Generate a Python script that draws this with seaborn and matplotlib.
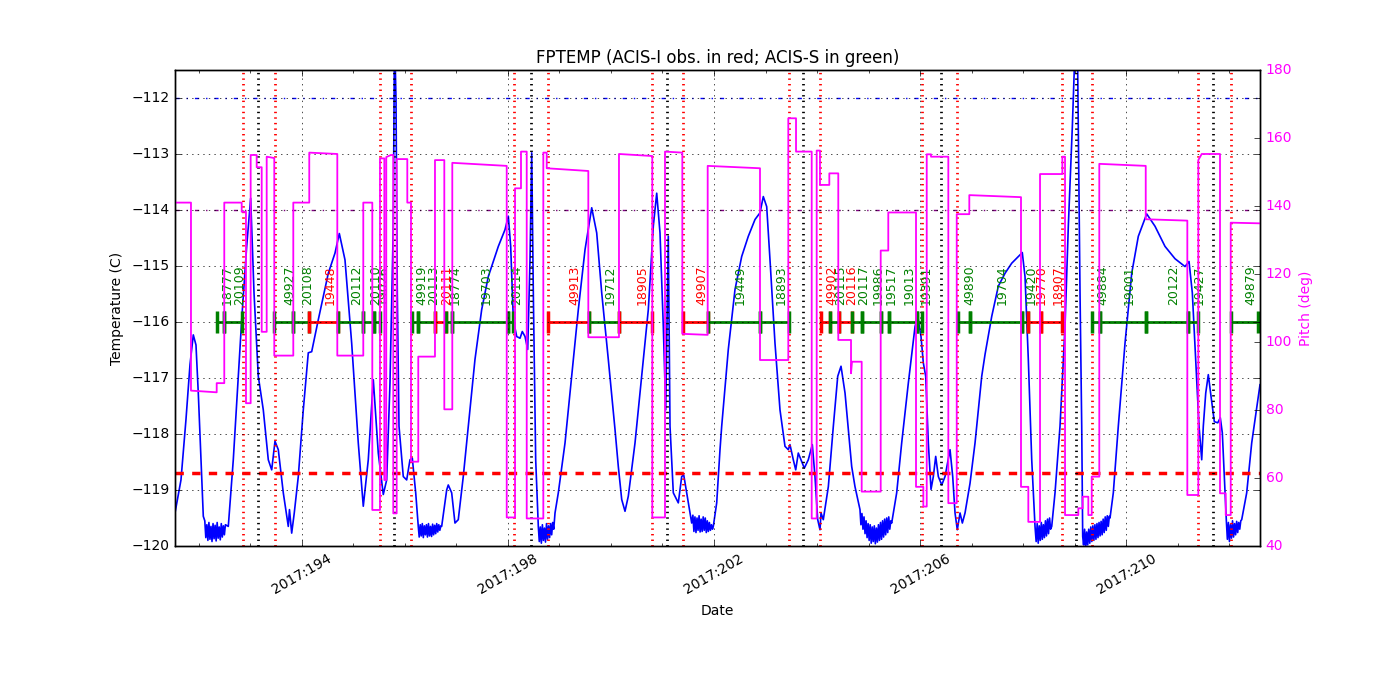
import matplotlib
matplotlib.use('Agg')
import matplotlib.pyplot as plt
from matplotlib.ticker import MultipleLocator, FuncFormatter
import pandas as pd
import seaborn as sns

# old-school matplotlib look, like the ACIS thermal model plots
plt.style.use('classic')
plt.rcParams['font.family'] = ['DejaVu Sans']
plt.rcParams['font.size'] = 10
plt.rcParams['figure.facecolor'] = 'white'
plt.rcParams['savefig.facecolor'] = 'white'

# FPTEMP (deg C) vs day of year 2017
temp_trace = [
    (191.542, -119.41), (191.658, -118.82), (191.755, -117.74), (191.833, -116.76),
    (191.897, -116.23), (191.949, -116.41), (191.994, -117.27), (192.046, -118.46),
    (192.091, -119.47),
    (192.12, -119.55), (192.14, -119.85), (192.16, -119.62), (192.18, -119.90),
    (192.20, -119.58), (192.22, -119.88), (192.24, -119.65), (192.26, -119.92),
    (192.28, -119.60), (192.30, -119.87), (192.32, -119.63), (192.34, -119.91),
    (192.36, -119.58), (192.38, -119.86), (192.40, -119.66), (192.42, -119.89),
    (192.44, -119.60), (192.46, -119.84), (192.48, -119.64), (192.50, -119.80),
    (192.52, -119.62),
    (192.576, -119.65), (192.673, -118.46), (192.770, -116.97), (192.836, -115.96),
    (192.933, -114.65), (193.010, -113.79), (193.075, -115.48), (193.158, -116.97),
    (193.255, -117.57), (193.352, -118.46), (193.418, -118.64), (193.482, -118.13),
    (193.546, -118.28), (193.643, -119.05), (193.740, -119.65), (193.763, -119.35),
    (193.806, -119.77), (193.856, -119.41), (193.934, -118.76), (194.031, -117.57),
    (194.128, -116.55), (194.194, -116.53), (194.322, -115.96), (194.516, -115.13),
    (194.646, -114.77), (194.730, -114.42), (194.840, -114.89), (194.970, -116.38),
    (195.098, -118.16), (195.195, -119.29), (195.292, -118.46), (195.389, -117.03),
    (195.486, -118.34), (195.583, -119.08), (195.649, -118.82), (195.713, -117.09),
    (195.777, -114.29), (195.801, -110.80), (195.830, -112.03), (195.855, -115.48),
    (195.888, -117.86), (195.971, -118.76), (196.037, -118.82), (196.101, -118.46),
    (196.146, -118.43), (196.212, -119.05), (196.262, -119.65),
    (196.28, -119.84), (196.30, -119.62), (196.32, -119.82), (196.34, -119.60),
    (196.36, -119.85), (196.38, -119.64), (196.40, -119.80), (196.42, -119.62),
    (196.44, -119.84), (196.46, -119.60), (196.48, -119.82), (196.50, -119.65),
    (196.52, -119.83), (196.54, -119.61), (196.56, -119.80), (196.58, -119.63),
    (196.60, -119.78), (196.62, -119.60), (196.64, -119.75), (196.66, -119.62),
    (196.68, -119.72), (196.70, -119.64),
    (196.716, -119.65), (196.813, -119.00), (196.844, -118.91), (196.910, -119.05),
    (196.974, -119.59), (197.038, -119.53), (197.135, -118.76), (197.232, -117.86),
    (197.362, -116.67), (197.492, -115.78), (197.620, -115.19), (197.815, -114.65),
    (197.945, -114.35), (198.009, -114.11), (198.055, -114.65), (198.106, -115.96),
    (198.172, -116.26), (198.236, -116.29), (198.280, -116.17), (198.333, -116.26),
    (198.385, -116.49), (198.430, -114.89), (198.463, -112.98), (198.494, -115.48),
    (198.540, -118.46), (198.591, -119.65),
    (198.61, -119.92), (198.63, -119.66), (198.65, -119.95), (198.67, -119.62),
    (198.69, -119.90), (198.71, -119.68), (198.73, -119.93), (198.75, -119.60),
    (198.77, -119.88), (198.79, -119.64), (198.81, -119.85), (198.83, -119.60),
    (198.85, -119.80), (198.87, -119.58), (198.89, -119.70),
    (198.915, -119.41), (198.979, -119.05), (199.109, -118.16), (199.239, -116.97),
    (199.367, -115.78), (199.497, -114.71), (199.627, -113.96), (199.724, -114.41),
    (199.821, -115.48), (199.949, -116.67), (200.079, -117.92), (200.143, -118.58),
    (200.209, -119.17), (200.273, -119.38), (200.337, -119.11), (200.467, -118.16),
    (200.597, -116.97), (200.725, -115.78), (200.822, -114.29), (200.888, -113.70),
    (200.952, -114.41), (201.016, -116.08), (201.063, -117.57), (201.113, -114.47),
    (201.146, -117.86), (201.210, -119.05), (201.307, -119.23), (201.373, -118.76),
    (201.412, -118.73), (201.470, -119.05), (201.567, -119.59),
    (201.59, -119.45), (201.61, -119.74), (201.63, -119.48), (201.65, -119.76),
    (201.67, -119.50), (201.69, -119.72), (201.71, -119.46), (201.73, -119.75),
    (201.75, -119.52), (201.77, -119.74), (201.79, -119.48), (201.81, -119.72),
    (201.83, -119.50), (201.85, -119.76), (201.87, -119.55), (201.89, -119.74),
    (201.91, -119.58), (201.93, -119.72), (201.95, -119.62), (201.97, -119.70),
    (201.986, -119.65), (202.052, -119.23), (202.116, -118.28), (202.149, -117.86),
    (202.277, -116.49), (202.407, -115.42), (202.537, -114.83), (202.665, -114.47),
    (202.795, -114.17), (202.892, -114.05), (202.956, -113.76), (203.022, -113.94),
    (203.086, -114.89), (203.183, -116.38), (203.280, -117.57), (203.377, -118.22),
    (203.441, -118.28), (203.474, -118.19), (203.538, -118.46), (203.585, -118.64),
    (203.635, -118.34), (203.688, -118.46), (203.752, -118.61), (203.829, -118.46),
    (203.907, -118.19), (203.959, -118.76), (204.012, -119.53), (204.056, -119.71),
    (204.076, -119.41), (204.120, -119.53), (204.218, -118.94), (204.315, -117.86),
    (204.400, -116.97), (204.464, -116.79), (204.542, -117.27), (204.671, -118.58),
    (204.735, -118.94), (204.832, -119.35),
    (204.85, -119.62), (204.87, -119.42), (204.89, -119.70), (204.91, -119.48),
    (204.93, -119.78), (204.95, -119.55), (204.97, -119.85), (204.99, -119.60),
    (205.01, -119.90), (205.03, -119.62), (205.05, -119.95), (205.07, -119.66),
    (205.09, -119.92), (205.11, -119.64), (205.13, -119.96), (205.15, -119.68),
    (205.17, -119.93), (205.19, -119.62), (205.21, -119.90), (205.23, -119.58),
    (205.25, -119.88), (205.27, -119.55), (205.29, -119.84), (205.31, -119.52),
    (205.33, -119.80), (205.35, -119.50), (205.37, -119.76), (205.39, -119.48),
    (205.41, -119.70), (205.43, -119.55),
    (205.447, -119.59), (205.544, -119.05), (205.641, -118.16), (205.770, -117.09),
    (205.900, -116.08), (205.952, -115.90), (206.016, -116.26), (206.061, -116.73),
    (206.107, -116.97), (206.158, -118.16), (206.210, -118.99), (206.255, -118.76),
    (206.301, -118.40), (206.352, -118.76), (206.418, -118.91), (206.482, -118.76),
    (206.579, -118.28), (206.631, -118.76), (206.676, -119.41), (206.720, -119.71),
    (206.773, -119.41), (206.818, -119.59), (206.870, -119.41), (206.967, -118.88),
    (207.064, -118.16), (207.194, -116.97), (207.258, -116.58), (207.388, -115.90),
    (207.516, -115.36), (207.646, -115.13), (207.776, -114.95), (207.904, -114.83),
    (207.981, -114.76), (208.034, -115.19), (208.098, -116.67), (208.164, -118.46),
    (208.228, -119.65),
    (208.25, -119.92), (208.27, -119.60), (208.29, -119.95), (208.31, -119.64),
    (208.33, -119.90), (208.35, -119.58), (208.37, -119.88), (208.39, -119.62),
    (208.41, -119.85), (208.43, -119.55), (208.45, -119.82), (208.47, -119.52),
    (208.49, -119.78), (208.51, -119.50), (208.53, -119.70),
    (208.552, -119.65), (208.616, -119.05), (208.713, -117.86), (208.810, -116.08),
    (208.874, -114.29), (208.952, -112.51), (208.990, -111.49), (209.023, -110.80),
    (209.056, -111.49), (209.101, -115.48), (209.134, -117.86), (209.153, -119.83),
    (209.17, -119.98), (209.19, -119.70), (209.21, -120.05), (209.23, -119.75),
    (209.25, -119.98), (209.27, -119.70), (209.29, -119.95), (209.31, -119.66),
    (209.33, -119.92), (209.35, -119.64), (209.37, -119.90), (209.39, -119.62),
    (209.41, -119.88), (209.43, -119.60), (209.45, -119.85), (209.47, -119.58),
    (209.49, -119.82), (209.51, -119.56), (209.53, -119.80), (209.55, -119.52),
    (209.57, -119.76), (209.59, -119.48), (209.61, -119.72), (209.63, -119.46),
    (209.65, -119.65), (209.67, -119.47),
    (209.683, -119.50), (209.747, -119.05), (209.844, -117.86), (209.974, -116.38),
    (210.104, -115.13), (210.232, -114.47), (210.395, -114.07), (210.556, -114.29),
    (210.750, -114.65), (210.944, -114.87), (211.138, -115.01), (211.216, -114.92),
    (211.280, -115.48), (211.346, -116.67), (211.410, -117.86), (211.462, -118.46),
    (211.493, -117.86), (211.540, -117.27), (211.590, -116.94), (211.643, -117.33),
    (211.707, -117.78), (211.773, -117.80), (211.823, -117.71), (211.862, -117.98),
    (211.901, -118.76), (211.939, -119.53),
    (211.96, -119.88), (211.98, -119.58), (212.00, -119.92), (212.02, -119.62),
    (212.04, -119.86), (212.06, -119.55), (212.08, -119.84), (212.10, -119.60),
    (212.12, -119.80), (212.14, -119.56), (212.16, -119.76), (212.18, -119.58),
    (212.20, -119.70), (212.22, -119.55),
    (212.238, -119.53), (212.335, -119.05), (212.432, -118.16), (212.593, -117.12),
]

# pitch (deg) vs day of year
pitch_trace = [
    (191.542, 141.0), (191.852, 141.0), (191.852, 85.7), (192.351, 85.2),
    (192.351, 87.9), (192.498, 87.9), (192.498, 141.0), (192.836, 141.0),
    (192.836, 138.3), (192.919, 138.3), (192.919, 82.0), (193.010, 82.0),
    (193.010, 155.0), (193.127, 155.0), (193.127, 151.4), (193.224, 151.4),
    (193.224, 103.0), (193.321, 103.0), (193.321, 154.5), (193.468, 154.1),
    (193.468, 96.0), (193.837, 96.0), (193.837, 141.0), (194.147, 141.0),
    (194.147, 155.7), (194.691, 155.3), (194.691, 96.0), (195.195, 96.0),
    (195.195, 141.0), (195.370, 141.0), (195.370, 50.6), (195.519, 50.6),
    (195.519, 154.0), (195.603, 154.0), (195.603, 59.4), (195.641, 59.4),
    (195.641, 154.4), (195.733, 155.0), (195.777, 155.0), (195.777, 49.6),
    (195.843, 49.6), (195.843, 153.8), (196.049, 153.8), (196.049, 141.0),
    (196.121, 141.0), (196.121, 64.8), (196.262, 64.8), (196.262, 95.7),
    (196.586, 95.7), (196.586, 153.5), (196.767, 153.5), (196.767, 80.2),
    (196.922, 80.2), (196.922, 152.7), (197.978, 151.8), (197.978, 48.4),
    (198.139, 48.4), (198.139, 145.2), (198.255, 145.2), (198.255, 156.0),
    (198.366, 156.0), (198.366, 48.1), (198.688, 48.1), (198.688, 155.7),
    (198.754, 155.7), (198.754, 151.1), (199.561, 150.3), (199.561, 101.4),
    (200.156, 101.4), (200.156, 155.3), (200.802, 154.7), (200.802, 48.4),
    (201.049, 48.4), (201.049, 156.0), (201.385, 155.7), (201.385, 102.4),
    (201.877, 102.1), (201.877, 151.8), (202.892, 151.1), (202.892, 94.7),
    (203.441, 94.7), (203.441, 165.8), (203.591, 165.8), (203.591, 156.0),
    (203.895, 156.0), (203.895, 48.1), (203.992, 48.1), (203.992, 156.3),
    (204.056, 156.3), (204.056, 146.2), (204.237, 146.2), (204.237, 149.6),
    (204.411, 149.6), (204.411, 100.6), (204.658, 100.6), (204.658, 90.8),
    (204.677, 94.2), (204.865, 94.2), (204.865, 56.0), (205.234, 56.0),
    (205.234, 126.9), (205.381, 126.9), (205.381, 138.1), (205.919, 138.1),
    (205.919, 57.4), (206.061, 57.4), (206.061, 51.6), (206.127, 51.6),
    (206.127, 155.2), (206.210, 155.2), (206.210, 154.5), (206.546, 154.5),
    (206.546, 52.6), (206.709, 52.6), (206.709, 137.6), (206.953, 137.6),
    (206.953, 143.2), (207.956, 142.6), (207.956, 57.4), (208.098, 57.4),
    (208.098, 47.1), (208.325, 47.1), (208.325, 149.4), (208.758, 149.4),
    (208.758, 154.5), (208.810, 154.5), (208.810, 49.1), (209.068, 49.1),
    (209.068, 51.1), (209.153, 51.1), (209.153, 54.5), (209.262, 54.5),
    (209.262, 49.1), (209.328, 49.1), (209.328, 60.4), (209.475, 60.4),
    (209.475, 152.4), (210.376, 151.8), (210.376, 136.1), (211.183, 135.7),
    (211.183, 55.0), (211.396, 55.0), (211.396, 153.5), (211.462, 155.3),
    (211.817, 155.3), (211.817, 55.5), (211.928, 55.5), (211.928, 49.1),
    (212.025, 49.1), (212.025, 135.1), (212.593, 134.9),
]

# observations: obsid, instrument (I / S), start, stop (day of year)
obsids = ['18777', '20109', '49927', '20108', '19448', '20112', '20110', '19026',
          '49919', '20113', '20111', '18774', '19703', '20114', '49913', '19712',
          '18905', '49907', '19449', '18893', '49902', '20115', '20116', '20117',
          '19986', '19517', '19013', '19391', '49890', '19704', '19420', '19770',
          '18907', '49884', '19001', '20122', '19427', '49879']
instr = ['S', 'S', 'S', 'S', 'I', 'S', 'S', 'S', 'S', 'S', 'I', 'S', 'S', 'S',
         'I', 'S', 'I', 'I', 'S', 'S', 'I', 'S', 'I', 'S', 'S', 'S', 'S', 'S',
         'S', 'S', 'S', 'I', 'I', 'S', 'S', 'S', 'S', 'S']
obs_start = [192.362, 192.498, 193.468, 193.837, 194.147, 194.698, 195.195, 195.403,
             196.146, 196.262, 196.586, 196.794, 196.922, 197.997, 198.785, 199.574,
             200.156, 201.404, 201.889, 202.892, 204.076, 204.250, 204.425, 204.671,
             204.865, 205.240, 205.395, 205.932, 206.728, 206.967, 207.970, 208.098,
             208.344, 209.339, 209.489, 210.381, 211.191, 212.031]
obs_stop = [192.498, 192.847, 193.837, 194.147, 194.698, 195.195, 195.403, 195.519,
            196.262, 196.586, 196.794, 196.922, 197.997, 198.106, 199.574, 200.156,
            200.791, 201.889, 202.892, 203.455, 204.250, 204.425, 204.671, 204.865,
            205.240, 205.395, 205.932, 206.041, 206.967, 207.970, 208.098, 208.344,
            208.746, 209.489, 210.381, 211.191, 211.385, 212.555]

# radiation zone entry / exit and perigee times
rad_entry = [192.855, 195.519, 198.125, 200.802, 203.455, 206.041, 208.746, 211.396]
rad_exit = [193.482, 196.121, 198.785, 201.404, 204.056, 206.720, 209.339, 212.025]
perigee = [193.158, 195.797, 198.449, 201.082, 203.732, 206.398, 209.023, 211.687]

# temperature limits
hi_limit = -112.0
planning_limit = -114.0
low_line = -118.7
obs_level = -116.0

temp_df = pd.DataFrame(temp_trace, columns=['day', 'fptemp'])
pitch_df = pd.DataFrame(pitch_trace, columns=['day', 'pitch'])

fig, ax = plt.subplots(figsize=(14, 7), dpi=100)
fig.subplots_adjust(left=0.125, right=0.9, top=0.9, bottom=0.22)

sns.lineplot(data=temp_df, x='day', y='fptemp', ax=ax, color='blue', lw=1.2,
             estimator=None, sort=False)

ax.axhline(hi_limit, color='blue', ls='-.', lw=1)
ax.axhline(planning_limit, color='purple', ls='-.', lw=1)
ax.axhline(low_line, color='red', ls='--', lw=2.5)

for t in rad_entry + rad_exit:
    ax.axvline(t, color='red', ls=':', lw=2)
for t in perigee:
    ax.axvline(t, color='black', ls=':', lw=2)

# obs bars with ids on top
for oid, ins, t0, t1 in zip(obsids, instr, obs_start, obs_stop):
    c = 'red' if ins == 'I' else 'green'
    ax.plot([t0, t1], [obs_level, obs_level], color=c, lw=2, marker='|',
            ms=16, mew=2.5)
    ax.text(0.5 * (t0 + t1), obs_level + 0.3, oid, rotation=90, color=c,
            fontsize=9, ha='left', va='bottom')

ax.set_xlim(191.542, 212.593)
ax.set_ylim(-120, -111.5)
ax.xaxis.set_major_locator(MultipleLocator(4, offset=2))
ax.xaxis.set_minor_locator(MultipleLocator(1))
ax.xaxis.set_major_formatter(FuncFormatter(lambda v, p: '2017:%d' % round(v)))
ax.yaxis.set_major_locator(MultipleLocator(1))
ax.tick_params(axis='x', labelrotation=30)
ax.grid(True, which='major')
ax.set_xlabel('Date')
ax.set_ylabel('Temperature (C)')
ax.set_title('FPTEMP (ACIS-I obs. in red; ACIS-S in green)')

ax2 = ax.twinx()
sns.lineplot(data=pitch_df, x='day', y='pitch', ax=ax2, color='magenta', lw=1.3,
             estimator=None, sort=False)
ax2.set_ylim(40, 180)
ax2.set_xlim(191.542, 212.593)
ax2.set_ylabel('Pitch (deg)', color='magenta')
ax2.tick_params(axis='y', labelcolor='magenta')
ax.tick_params(axis='y', which='both', right=True, labelright=False)

fig.savefig('out.png', dpi=100)
